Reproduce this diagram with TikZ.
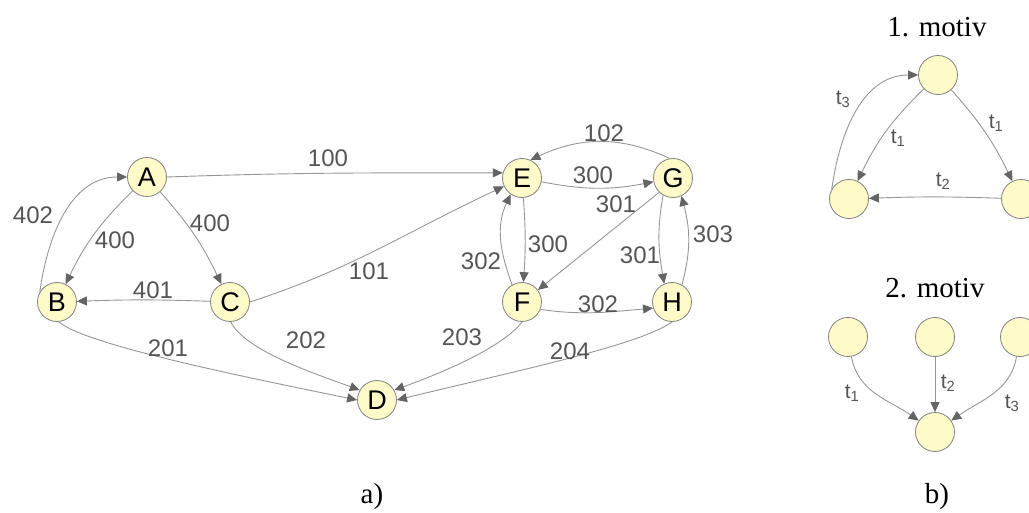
\documentclass[tikz,border=0pt]{standalone}
\usepackage{fontspec}
\setmainfont{Liberation Sans}
\newfontfamily\serifrm{Liberation Serif}
\usetikzlibrary{arrows.meta}
\definecolor{nodefill}{RGB}{255,251,200}
\definecolor{nodeline}{RGB}{128,128,128}
\definecolor{edgecol}{RGB}{150,150,150}
\definecolor{arrowcol}{RGB}{100,100,100}
\definecolor{labcol}{RGB}{85,85,85}
\tikzset{
  vert/.style={circle, draw=nodeline, fill=nodefill, line width=0.8pt,
    minimum size=39pt, inner sep=0pt, font=\fontsize{27}{27}\selectfont},
  edge/.style={draw=edgecol, line width=0.9pt,
    -{Triangle[length=10pt,width=9pt,color=arrowcol]}},
  lab/.style={text=labcol, font=\fontsize{24}{24}\selectfont, inner sep=0pt},
  tlab/.style={text=labcol, font=\fontsize{21}{21}\selectfont, inner sep=0pt},
  ttl/.style={font=\serifrm\fontsize{29}{29}\selectfont, anchor=base, inner sep=0pt}
}
\begin{document}
\begin{tikzpicture}[x=1pt,y=1pt]
\useasboundingbox (0,0) rectangle (1029,-513);
% main graph nodes
\node[vert] (A) at (147,-177) {A};
\node[vert] (B) at (57,-302) {B};
\node[vert] (C) at (230,-302) {C};
\node[vert] (D) at (377,-400) {D};
\node[vert] (E) at (522,-178) {E};
\node[vert] (G) at (673,-178) {G};
\node[vert] (F) at (522,-302) {F};
\node[vert] (H) at (672,-302) {H};
% main edges
\draw[edge] (A.east) to[out=2,in=180] (E.165);
\draw[edge] (C.east) to[out=18,in=205] (E);
\draw[edge] (B.150) to[out=82,in=180] (A.west);
\draw[edge] (A) to[bend right=10] (B);
\draw[edge] (A) to[bend left=8] (C);
\draw[edge] (C) to[bend right=2] (B);
\draw[edge] (B.-85) .. controls (85,-345) and (250,-378) .. (D.west);
\draw[edge] (C.-88) .. controls (245,-350) and (310,-372) .. (D.150);
\draw[edge] (F.-90) .. controls (505,-345) and (450,-370) .. (D.30);
\draw[edge] (H.-90) .. controls (640,-345) and (520,-370) .. (D.east);
\draw[edge] (G.100) to[out=155,in=25] (E.65);
\draw[edge] (E) to[bend right=11] (G);
\draw[edge] (E) to[bend left=4] (F);
\draw[edge] (F.120) to[out=110,in=245] (E.235);
\draw[edge] (G.226) -- (F.37);
\draw[edge] (G.240) to[out=-100,in=100] (H.113);
\draw[edge] (H.60) to[out=75,in=-75] (G.295);
\draw[edge] (F.-22) to[out=-8,in=185] (H.198);
% main labels
\node[lab] (l100) at (328,-158) {100};
\node[lab] (l402) at (33,-215) {402};
\node[lab] (l400a) at (115,-240) {400};
\node[lab] (l400b) at (210,-223) {400};
\node[lab] (l401) at (153,-290) {401};
\node[lab] (l101) at (369,-271) {101};
\node[lab] (l201) at (168,-348) {201};
\node[lab] (l202) at (306,-340) {202};
\node[lab] (l203) at (462,-337) {203};
\node[lab] (l204) at (570,-351) {204};
\node[lab] (l102) at (604,-133) {102};
\node[lab] (l300a) at (593,-175) {300};
\node[lab] (l301a) at (616,-204) {301};
\node[lab] (l300b) at (548,-244) {300};
\node[lab] (l302a) at (481,-261) {302};
\node[lab] (l301b) at (640,-255) {301};
\node[lab] (l303) at (713,-234) {303};
\node[lab] (l302b) at (598,-304) {302};
% motif 1
\node[ttl] (m1) at (937,-37) {1. motiv};
\node[vert] (T1) at (938,-75) {};
\node[vert] (L1) at (849,-199) {};
\node[vert] (R1) at (1021,-199) {};
\draw[edge] (L1.150) to[out=82,in=180] (T1.west);
\draw[edge] (T1) to[bend right=10] (L1);
\draw[edge] (T1) to[bend left=8] (R1);
\draw[edge] (R1) to[bend right=2] (L1);
\node[tlab] (t3a) at (843,-99) {t\textsubscript{3}};
\node[tlab] (t1a) at (898,-138) {t\textsubscript{1}};
\node[tlab] (t1b) at (996,-123) {t\textsubscript{1}};
\node[tlab] (t2a) at (943,-181) {t\textsubscript{2}};
% motif 2
\node[ttl] (m2) at (935,-298) {2. motiv};
\node[vert] (P1) at (848,-337) {};
\node[vert] (P2) at (935,-337) {};
\node[vert] (P3) at (1020,-337) {};
\node[vert] (Q) at (935,-432) {};
\draw[edge] (P1) to[out=-80,in=145] (Q);
\draw[edge] (P2) -- (Q);
\draw[edge] (P3) to[out=-100,in=35] (Q);
\node[tlab] (t1c) at (852,-393) {t\textsubscript{1}};
\node[tlab] (t2b) at (948,-383) {t\textsubscript{2}};
\node[tlab] (t3b) at (1012,-403) {t\textsubscript{3}};
% captions
\node[ttl] (ca) at (372,-503) {a)};
\node[ttl] (cb) at (937,-503) {b)};
\end{tikzpicture}
\end{document}
